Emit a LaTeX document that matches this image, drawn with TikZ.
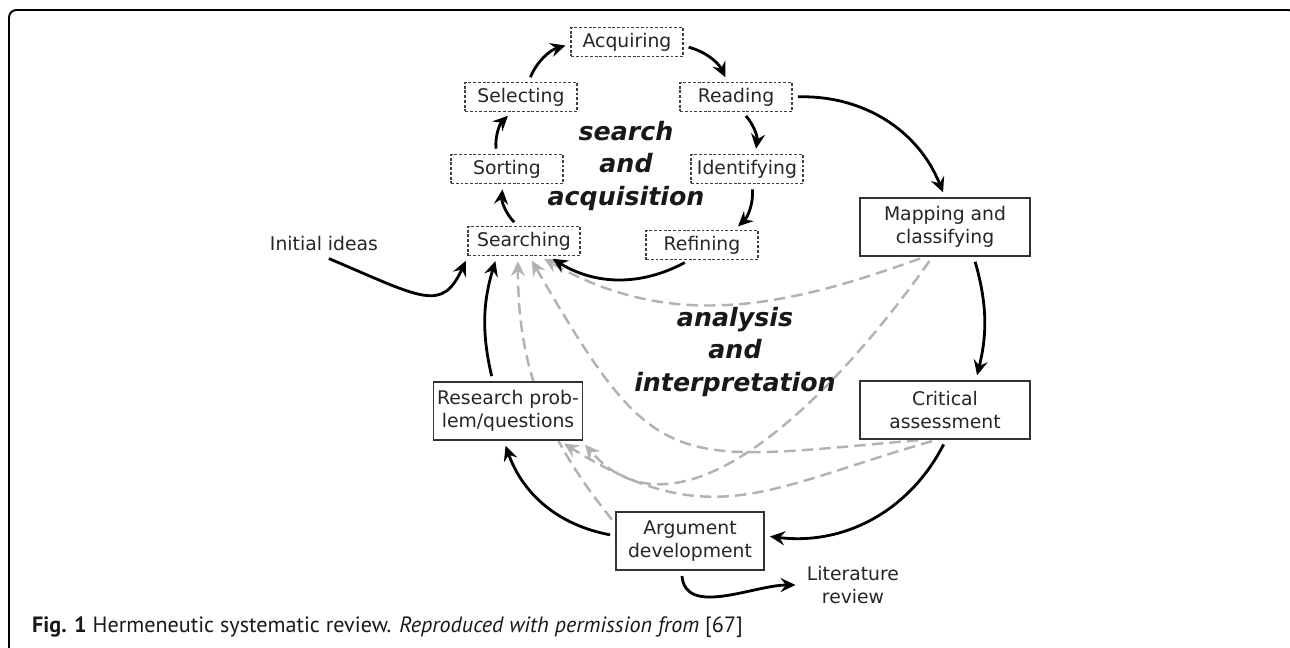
\documentclass[tikz,border=0pt]{standalone}
\usepackage{fontspec}
\setmainfont{DejaVu Sans}
\newfontfamily\capfont{PT Sans}
\usetikzlibrary{arrows.meta,backgrounds}

\tikzset{
  stage/.style={draw=black!75,dash pattern=on 1.6pt off 1.1pt,line width=0.6pt,fill=white,
    minimum width=2.24cm,minimum height=0.58cm,inner sep=1pt},
  phase/.style={draw=black!80,line width=0.8pt,fill=white,align=center,
    minimum height=1.16cm,inner sep=2pt},
  flow/.style={-{Stealth[length=8.5pt,width=8pt,inset=3pt]},line width=1.6pt,
    shorten <=3pt,shorten >=3pt},
  back/.style={-{Stealth[length=8.5pt,width=8pt,inset=3pt]},draw=black!30,line width=1.4pt,
    dash pattern=on 6.5pt off 3.5pt,shorten <=3pt,shorten >=3pt},
  theme/.style={font=\fontsize{14.4}{18.3}\selectfont\bfseries\itshape,align=center,text=black!90},
}

\begin{document}
\begin{tikzpicture}[x=0.02cm,y=0.02cm,font=\fontsize{10.7}{13}\selectfont,text=black!85]
\useasboundingbox (0,0) rectangle (1290,647);
\draw[line width=1.1pt,rounded corners=0.15cm] (9,-5) -- (9,637) -- (1296,637) -- (1296,600);

% search and acquisition
\node[stage] (Acq) at (627,605) {Acquiring};
\node[stage] (Rea) at (736,550) {Reading};
\node[stage] (Sel) at (521,550) {Selecting};
\node[stage] (Sor) at (507,478) {Sorting};
\node[stage] (Ide) at (747,478) {Identifying};
\node[stage] (Sea) at (524,406) {Searching};
\node[stage] (Ref) at (702,402) {Refining};
\node[theme] (SA) at (626,481) {search\\and\\acquisition};

% analysis and interpretation
\node[phase,minimum width=3.4cm] (Map) at (945,420) {Mapping and\\classifying};
\node[phase,minimum width=3.4cm] (Cri) at (945,237) {Critical\\assessment};
\node[phase,minimum width=2.96cm] (Arg) at (690,106) {Argument\\development};
\node[phase,minimum width=2.96cm] (Res) at (508,236) {Research prob-\\lem/questions};
\node[theme] (AI) at (735,295) {analysis\\and\\interpretation};

\node (Ini) at (324,404) {Initial ideas};
\node[align=center] (Lit) at (853,62) {Literature\\review};

\draw[flow] (Sea.112) to[bend left=25] (Sor.255);
\draw[flow] (Sor.125) to[bend left=25] (Sel.238);
\draw[flow] (Sel.64) to[bend left=25] (Acq.182);
\draw[flow] (Acq.-4) to[bend left=25] (Rea.119);
\draw[flow] (Rea.-67) to[bend left=25] (Ide.61);
\draw[flow] (Ide.-71) to[bend left=25] (Ref.25);
\draw[flow] (Ref.230) to[bend left=30] (Sea.-32);

\draw[flow] (Rea.east) to[bend left=35] (Map.north);
\draw[flow] (Map.-46) to[bend left=15] (Cri.44);
\draw[flow] (Cri.-88) to[bend left=35] (Arg.4);
\draw[flow] (Arg.176) to[bend left=30] (Res.262);
\draw[flow] (Res.117) to[bend left=15] (Sea.209);
\draw[flow] (Ini.south) .. controls (422,349) and (442,334) .. (Sea.195);
\draw[flow] (Arg.254) to[out=-85,in=180] (Lit.west);

\begin{scope}[on background layer]
\draw[back] (Map.236) to[out=200,in=-30] (Sea.-44);
\draw[back] (Map.247) to[out=235,in=-49] (Res.-22);
\draw[back] (Cri.234) to[out=185,in=-60,looseness=1.5] (Sea.-71);
\draw[back] (Cri.255) to[out=196,in=-32,looseness=1.2] (Res.-30);
\draw[back] (Arg.167) to[out=129,in=-90] (Sea.248);
\end{scope}

\node[anchor=west,font=\capfont\fontsize{12.6}{15}\selectfont,text=black!90] (Cap) at (26,20)
  {\textbf{Fig. 1} Hermeneutic systematic review. \textit{Reproduced with permission from} [67]};
\end{tikzpicture}
\end{document}
